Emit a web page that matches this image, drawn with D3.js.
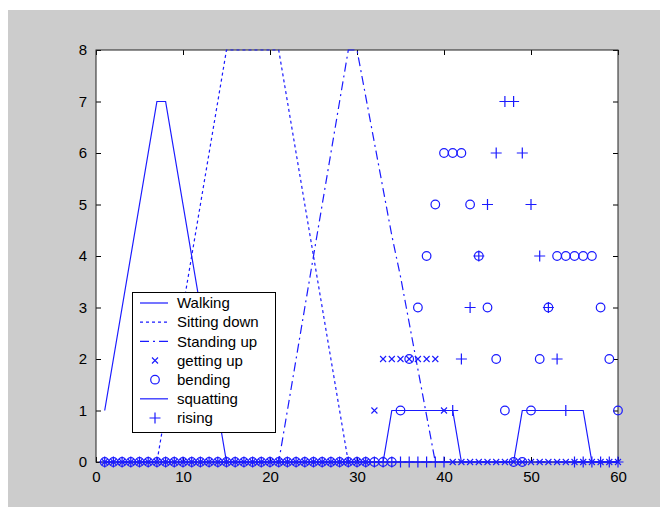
<!DOCTYPE html>
<html>
<head>
<meta charset="utf-8">
<script src="https://cdn.jsdelivr.net/npm/d3@7"></script>
<style>
  body { margin: 0; background: #ffffff; }
  svg { display: block; font-family: "Liberation Sans", Arial, sans-serif; }
</style>
</head>
<body>
<div id="chart-area"></div>
<script>
// Indices 1..60 on the x axis
var xIndex = d3.range(1, 61);

// Line series
var walking = [1, 2, 3, 4, 5, 6, 7, 7, 6, 5, 4, 3, 2, 1, 0,
    0, 0, 0, 0, 0, 0, 0, 0, 0, 0, 0, 0, 0, 0, 0,
    0, 0, 0, 0, 0, 0, 0, 0, 0, 0, 0, 0, 0, 0, 0,
    0, 0, 0, 0, 0, 0, 0, 0, 0, 0, 0, 0, 0, 0, 0];
var sittingDown = [0, 0, 0, 0, 0, 0, 0, 1, 2, 3, 4, 5, 6, 7, 8,
    8, 8, 8, 8, 8, 8, 7, 6, 5, 4, 3, 2, 1, 0, 0,
    0, 0, 0, 0, 0, 0, 0, 0, 0, 0, 0, 0, 0, 0, 0,
    0, 0, 0, 0, 0, 0, 0, 0, 0, 0, 0, 0, 0, 0, 0];
var standingUp = [0, 0, 0, 0, 0, 0, 0, 0, 0, 0, 0, 0, 0, 0, 0,
    0, 0, 0, 0, 0, 0, 1, 2, 3, 4, 5, 6, 7, 8, 8,
    7.1, 6.2, 5.3, 4.4, 3.6, 2.7, 1.8, 0.9, 0, 0, 0, 0, 0, 0, 0,
    0, 0, 0, 0, 0, 0, 0, 0, 0, 0, 0, 0, 0, 0, 0];
var squatting = [0, 0, 0, 0, 0, 0, 0, 0, 0, 0, 0, 0, 0, 0, 0,
    0, 0, 0, 0, 0, 0, 0, 0, 0, 0, 0, 0, 0, 0, 0,
    0, 0, 0, 1, 1, 1, 1, 1, 1, 1, 1, 0, 0, 0, 0,
    0, 0, 0, 1, 1, 1, 1, 1, 1, 1, 1, 0, 0, 0, 0];

// Marker series
var gettingUp = [0, 0, 0, 0, 0, 0, 0, 0, 0, 0, 0, 0, 0, 0, 0,
    0, 0, 0, 0, 0, 0, 0, 0, 0, 0, 0, 0, 0, 0, 0,
    0, 1, 2, 2, 2, 2, 2, 2, 2, 1, 0, 0, 0, 0, 0,
    0, 0, 0, 0, 0, 0, 0, 0, 0, 0, 0, 0, 0, 0, 0];
var bending = [0, 0, 0, 0, 0, 0, 0, 0, 0, 0, 0, 0, 0, 0, 0,
    0, 0, 0, 0, 0, 0, 0, 0, 0, 0, 0, 0, 0, 0, 0,
    0, 0, 0, 0, 1, 2, 3, 4, 5, 6, 6, 6, 5, 4, 3,
    2, 1, 0, 0, 1, 2, 3, 4, 4, 4, 4, 4, 3, 2, 1];
var rising = [0, 0, 0, 0, 0, 0, 0, 0, 0, 0, 0, 0, 0, 0, 0,
    0, 0, 0, 0, 0, 0, 0, 0, 0, 0, 0, 0, 0, 0, 0,
    0, 0, 0, 0, 0, 0, 0, 0, 0, 0, 1, 2, 3, 4, 5,
    6, 7, 7, 6, 5, 4, 3, 2, 1, 0, 0, 0, 0, 0, 0];

var xTicks = [0, 10, 20, 30, 40, 50, 60];
var yTicks = [0, 1, 2, 3, 4, 5, 6, 7, 8];
var legendLabels = ["Walking", "Sitting down", "Standing up", "getting up", "bending", "squatting", "rising"];

document.addEventListener("DOMContentLoaded", function() {
    var blue = "#1a1aff";
    var svg = d3.select("#chart-area").append("svg")
        .attr("width", 667)
        .attr("height", 510);

    // Fondo gris de la figura
    svg.append("rect")
        .attr("x", 8).attr("y", 10)
        .attr("width", 652).attr("height", 497)
        .attr("fill", "#cccccc");

    var left = 96, right = 618, top = 50, bottom = 462;
    var x = d3.scaleLinear().domain([0, 60]).range([left, right]);
    var y = d3.scaleLinear().domain([0, 8]).range([bottom, top]);

    svg.append("rect")
        .attr("x", left).attr("y", top)
        .attr("width", right - left).attr("height", bottom - top)
        .attr("fill", "#ffffff");

    // Ejes con marcas hacia dentro
    function styleAxis(g) {
        g.selectAll(".domain").remove();
        g.selectAll(".tick line").attr("stroke", "#000");
        g.selectAll("text").attr("font-size", 15).attr("fill", "#000");
    }
    svg.append("g").attr("transform", "translate(0," + bottom + ")")
        .call(d3.axisBottom(x).tickValues(xTicks).tickSizeInner(-5).tickSizeOuter(0).tickPadding(9))
        .call(styleAxis);
    svg.append("g").attr("transform", "translate(0," + top + ")")
        .call(d3.axisTop(x).tickValues(xTicks).tickSizeInner(-5).tickSizeOuter(0).tickFormat(""))
        .call(styleAxis);
    svg.append("g").attr("transform", "translate(" + left + ",0)")
        .call(d3.axisLeft(y).tickValues(yTicks).tickSizeInner(-5).tickSizeOuter(0).tickPadding(9))
        .call(styleAxis);
    svg.append("g").attr("transform", "translate(" + right + ",0)")
        .call(d3.axisRight(y).tickValues(yTicks).tickSizeInner(-5).tickSizeOuter(0).tickFormat(""))
        .call(styleAxis);

    svg.append("rect")
        .attr("x", left).attr("y", top)
        .attr("width", right - left).attr("height", bottom - top)
        .attr("fill", "none").attr("stroke", "#222").attr("stroke-width", 1);

    var line = d3.line()
        .x((d, i) => x(xIndex[i]))
        .y(d => y(d));

    var lineSeries = [
        { data: walking, dash: null },
        { data: sittingDown, dash: "3,3" },
        { data: standingUp, dash: "9,4,2,4" }
    ];
    lineSeries.forEach(function(s) {
        svg.append("path")
            .attr("d", line(s.data))
            .attr("fill", "none")
            .attr("stroke", blue)
            .attr("stroke-width", 1.2)
            .attr("stroke-dasharray", s.dash);
    });

    // Marcadores
    function drawX(g, cx, cy) {
        g.append("path")
            .attr("d", "M" + (cx - 3) + "," + (cy - 3) + "L" + (cx + 3) + "," + (cy + 3) +
                       "M" + (cx - 3) + "," + (cy + 3) + "L" + (cx + 3) + "," + (cy - 3))
            .attr("stroke", blue).attr("stroke-width", 1.1).attr("fill", "none");
    }
    function drawO(g, cx, cy) {
        g.append("circle").attr("cx", cx).attr("cy", cy).attr("r", 4.3)
            .attr("stroke", blue).attr("stroke-width", 1.2).attr("fill", "none");
    }
    function drawPlus(g, cx, cy) {
        g.append("path")
            .attr("d", "M" + (cx - 5.5) + "," + cy + "L" + (cx + 5.5) + "," + cy +
                       "M" + cx + "," + (cy - 5.5) + "L" + cx + "," + (cy + 5.5))
            .attr("stroke", blue).attr("stroke-width", 1.2).attr("fill", "none");
    }

    var gx = svg.append("g");
    gettingUp.forEach((d, i) => drawX(gx, x(xIndex[i]), y(d)));
    var go = svg.append("g");
    bending.forEach((d, i) => drawO(go, x(xIndex[i]), y(d)));

    svg.append("path")
        .attr("d", line(squatting))
        .attr("fill", "none")
        .attr("stroke", blue)
        .attr("stroke-width", 1.2);

    var gp = svg.append("g");
    rising.forEach((d, i) => drawPlus(gp, x(xIndex[i]), y(d)));

    // Leyenda
    var legend = svg.append("g");
    legend.append("rect")
        .attr("x", 132.5).attr("y", 292.5)
        .attr("width", 143).attr("height", 140)
        .attr("fill", "#ffffff").attr("stroke", "#000").attr("stroke-width", 1);

    var rowY = d3.scaleLinear().domain([0, 6]).range([303, 418]);
    var kinds = ["line", "dot", "dashdot", "x", "o", "line", "plus"];
    legendLabels.forEach(function(label, i) {
        var ry = rowY(i);
        var k = kinds[i];
        if (k === "line" || k === "dot" || k === "dashdot") {
            legend.append("line")
                .attr("x1", 140).attr("x2", 168)
                .attr("y1", ry).attr("y2", ry)
                .attr("stroke", blue).attr("stroke-width", 1.2)
                .attr("stroke-dasharray", k === "dot" ? "3,3" : (k === "dashdot" ? "9,4,2,4" : null));
        } else if (k === "x") {
            drawX(legend, 155, ry);
        } else if (k === "o") {
            drawO(legend, 155, ry);
        } else {
            drawPlus(legend, 155, ry);
        }
        legend.append("text")
            .attr("x", 177).attr("y", ry)
            .attr("dy", "0.35em")
            .attr("font-size", 15)
            .attr("fill", "#000")
            .text(label);
    });
});
</script>
</body>
</html>
